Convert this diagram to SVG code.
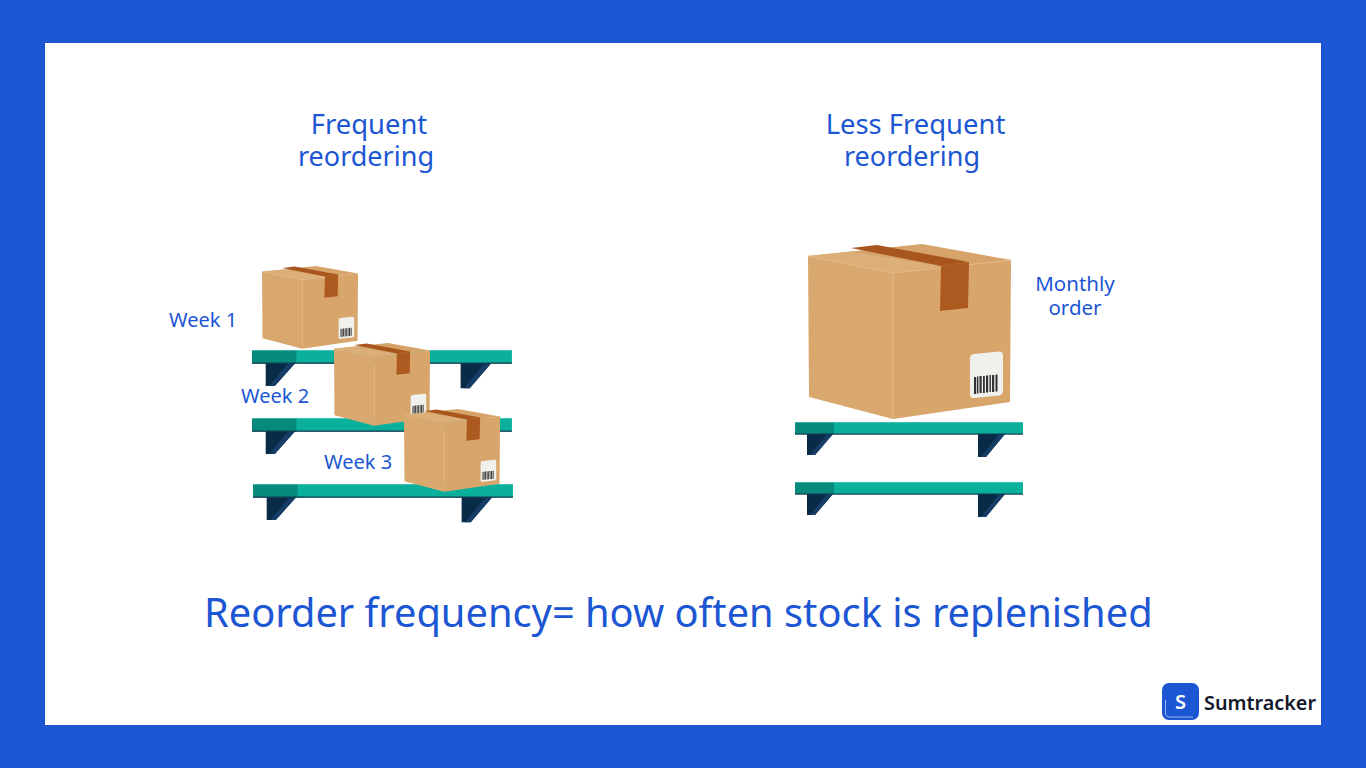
<svg xmlns="http://www.w3.org/2000/svg" width="1366" height="768" viewBox="0 0 1366 768">
<style>
.t{font-family:"Noto Sans","Open Sans",sans-serif;fill:#1c56d3}
.h{font-size:27px;text-anchor:middle}
.h2{font-size:27.400px;text-anchor:middle}
.w{font-size:20px}
.m{font-size:20.500px;text-anchor:middle}
.b1{fill:#d9a86f}.b2{fill:#d8a56b}.b3{fill:#d6a46b}.b4{fill:#dcae78}
.tape{fill:#ad5a20}.tape2{fill:#a8551e}
.lab{fill:#f0f0ec}.bar{fill:#333}
.sh{fill:#0ab09c}.shd{fill:#07897c}.shl{fill:#123a52}.sht{fill:#5fcfc0}
.br{fill:#0a2b47}.brl{fill:#163d66}
</style>
<defs>
<g id="box">
<path class="b3" d="M0 12L114 0L203 16L85 29Z"/>
<path class="b4" d="M0 12L43 7.500L133 22L85 29Z"/>
<path class="b1" d="M0 12L85 29L85 175L1 153Z"/>
<path class="b2" d="M85 29L203 16L202 158L85 175Z"/>
<path d="M85 29V175M0 12L85 29L203 16" stroke="#e3b988" stroke-width="1" fill="none"/>
<path class="tape2" d="M43 4L69 1L161 18L133 22Z"/>
<path class="tape" d="M133 22L161 18L160 64L132 67Z"/>
<rect class="lab" x="162" y="110.500" width="33" height="44" rx="4" transform="skewY(-6) translate(0 17)"/>
<g class="bar">
<rect x="166" y="133" width="2.200" height="17"/><rect x="169" y="132.500" width="1.400" height="17"/><rect x="171.500" y="132" width="2.200" height="17"/><rect x="175" y="132" width="1.800" height="17"/><rect x="178" y="131.500" width="2.200" height="17"/><rect x="181.500" y="131" width="1.400" height="17"/><rect x="184" y="131" width="2.200" height="17"/><rect x="187.500" y="130.500" width="2" height="17"/>
</g>
</g>
<g id="shelf">
<path class="br" d="M12 12H38L20 33H12Z"/>
<path class="brl" d="M32 12H38L20 33H15Z"/>
<path class="br" d="M183 12H210L191 35H183Z"/>
<path class="brl" d="M204 12H210L191 35H186Z"/>
<rect class="sh" width="228" height="12"/>
<rect class="shd" width="39" height="12"/>
<rect class="sht" width="228" height=".8" opacity=".7"/>
<rect class="shl" y="11.500" width="228" height="1.200"/>
</g>
</defs>
<rect id="frame" width="1366" height="768" fill="#1c56d3"/>
<rect id="panel" x="45" y="43" width="1276" height="682" fill="#fff"/>
<g id="shelves">
<use id="shelf-l1" href="#shelf" transform="translate(252 350) scale(1.14 1.09)"/>
<use id="shelf-l2" href="#shelf" transform="translate(252 418) scale(1.14 1.09)"/>
<use id="shelf-l3" href="#shelf" transform="translate(253 484) scale(1.14 1.09)"/>
<use id="shelf-r1" href="#shelf" transform="translate(795 422)"/>
<use id="shelf-r2" href="#shelf" transform="translate(795 482)"/>
</g>
<g id="boxes">
<use id="box-w1" href="#box" transform="translate(262 266) scale(.473)"/>
<use id="box-w2" href="#box" transform="translate(334 343) scale(.473)"/>
<use id="box-w3" href="#box" transform="translate(404 409) scale(.473)"/>
<use id="box-m" href="#box" transform="translate(808 244)"/>
</g>
<g id="labels">
<text class="t h2" x="369" y="134">Frequent</text>
<text class="t h" x="366" y="166">reordering</text>
<text class="t h2" x="915.500" y="134">Less Frequent</text>
<text class="t h" x="912" y="166">reordering</text>
<text class="t w" x="169" y="327">Week 1</text>
<text class="t w" x="241" y="403">Week 2</text>
<text class="t w" x="324" y="469">Week 3</text>
<text class="t m" x="1075" y="291">Monthly</text>
<text class="t m" x="1075" y="315">order</text>
<text class="t" x="204" y="627" font-size="39.800">Reorder frequency= how often stock is replenished</text>
</g>
<g id="logo">
<rect x="1162" y="683" width="37" height="37" rx="7" fill="#1c56d3"/>
<path d="M1165.500 700V713Q1165.500 717 1170 717H1193" fill="none" stroke="#9db9ee" stroke-width="1"/>
<text x="1180.500" y="709" font-family="Noto Sans,sans-serif" font-size="20" font-weight="600" fill="#fff" text-anchor="middle">S</text>
<text x="1204" y="710" font-family="Noto Sans,sans-serif" font-size="19.800" font-weight="600" fill="#14182b">Sumtracker</text>
</g>
</svg>
